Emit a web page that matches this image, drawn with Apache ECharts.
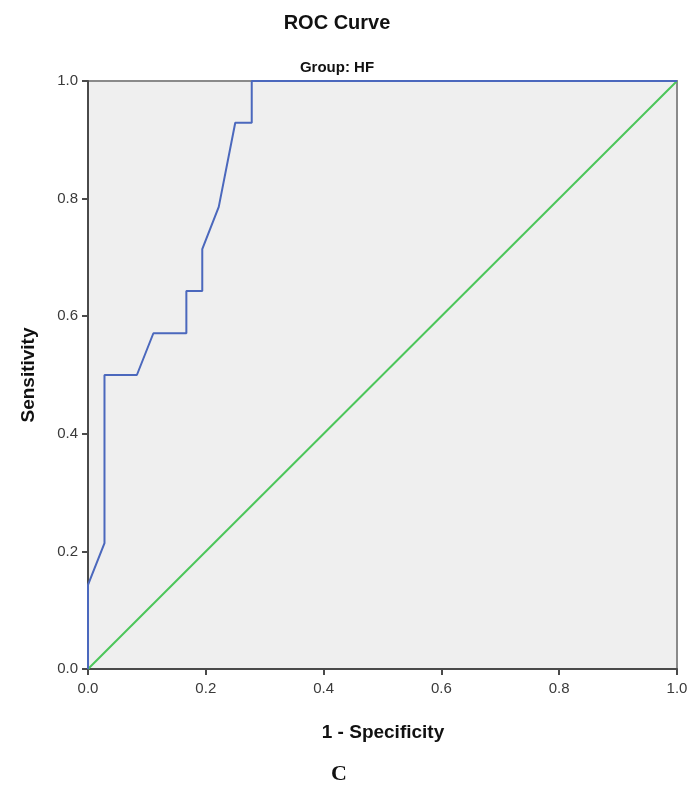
<!DOCTYPE html>
<html>
<head>
<meta charset="utf-8">
<script src="https://cdn.jsdelivr.net/npm/echarts@6/dist/echarts.min.js"></script>
<style>
  html, body { margin: 0; padding: 0; background: #fff; }
  #chart { width: 692px; height: 787px; }
</style>
</head>
<body>
<div id="chart"></div>
<script>
// ROC curve points: 1 - specificity, sensitivity
var fpr = [0, 0, 0.028, 0.028, 0.083, 0.111, 0.167, 0.167, 0.194, 0.194, 0.222, 0.25, 0.278, 0.278, 1];
var tpr = [0, 0.143, 0.214, 0.5, 0.5, 0.571, 0.571, 0.643, 0.643, 0.714, 0.786, 0.929, 0.929, 1, 1];
// reference diagonal
var refX = [0, 1];
var refY = [0, 1];
var tickLabels = ['0.0', '0.2', '0.4', '0.6', '0.8', '1.0'];

var rocData = fpr.map(function(x, i) { return [x, tpr[i]]; });
var refData = refX.map(function(x, i) { return [x, refY[i]]; });

var font = '"Liberation Sans", Arial, sans-serif';
var chart = echarts.init(document.getElementById('chart'));

function fmt(v) {
    return tickLabels[Math.round(v * 5)];
}

var axisCommon = {
    type: 'value',
    min: 0,
    max: 1,
    interval: 0.2,
    axisLine: { show: true, lineStyle: { color: '#4a4a4a', width: 2 } },
    axisTick: { show: true, length: 6, lineStyle: { color: '#4a4a4a', width: 2 } },
    splitLine: { show: false },
    axisLabel: { color: '#3a3a3a', fontFamily: font, fontSize: 15, formatter: fmt }
};

function titleText(text, left, top, size, family) {
    return {
        text: text,
        left: left,
        top: top,
        textAlign: 'center',
        textStyle: { fontFamily: family || font, fontSize: size, fontWeight: 'bold', color: '#111' }
    };
}

var option = {
    backgroundColor: '#fff',
    animation: false,
    title: [
        titleText('ROC Curve', 332, 8, 20),
        titleText('Group: HF', 332, 55, 15),
        titleText('1 - Specificity', 378, 718, 19),
        titleText('C', 334, 758, 22, '"Liberation Serif", "Times New Roman", serif')
    ],
    grid: {
        left: 88, right: 15, top: 81, bottom: 118,
        show: true,
        backgroundColor: '#efefef',
        borderColor: '#8a8a8a',
        borderWidth: 2
    },
    xAxis: Object.assign({}, axisCommon, {
        axisLabel: Object.assign({}, axisCommon.axisLabel, { margin: 12 })
    }),
    yAxis: Object.assign({}, axisCommon, {
        name: 'Sensitivity',
        nameLocation: 'middle',
        nameGap: 50,
        nameTextStyle: { fontFamily: font, fontSize: 19, fontWeight: 'bold', color: '#111' },
        axisLabel: Object.assign({}, axisCommon.axisLabel, { margin: 10 })
    }),
    series: [
        {
            type: 'line',
            data: refData,
            symbol: 'none',
            lineStyle: { color: '#4cc65a', width: 2 },
            z: 2
        },
        {
            type: 'line',
            data: rocData,
            symbol: 'none',
            lineStyle: { color: '#4b68bd', width: 2 },
            z: 3
        }
    ]
};

chart.setOption(option);
</script>
</body>
</html>
